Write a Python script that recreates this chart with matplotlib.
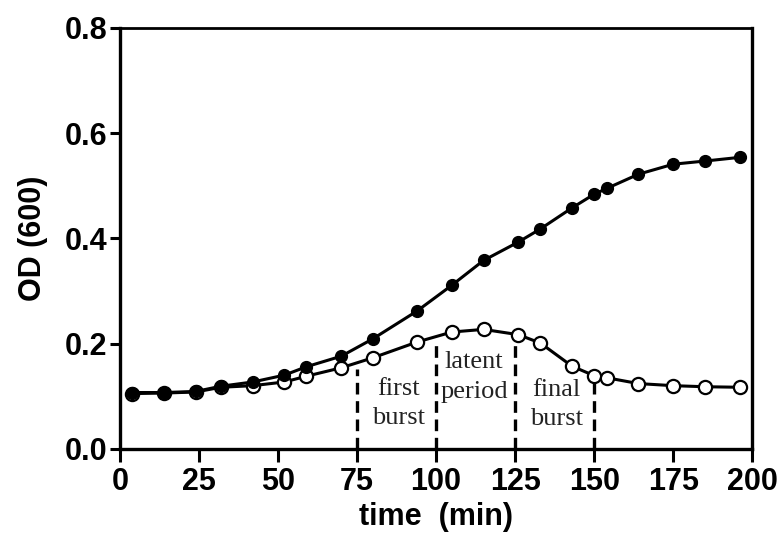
#! /usr/bin/env python3
#
#  OD(600) growth curves: uninfected (filled) vs infected (open), with burst phases.
#
import matplotlib
matplotlib.use('Agg')
import matplotlib.pyplot as plt
import numpy as np

time_min = [4, 14, 24, 32, 42, 52, 59, 70, 80, 94, 105, 115, 126, 133, 143,
            150, 154, 164, 175, 185, 196]
od_filled = [0.107, 0.107, 0.109, 0.119, 0.127, 0.140, 0.156, 0.176, 0.209,
             0.262, 0.311, 0.358, 0.393, 0.418, 0.458, 0.484, 0.495, 0.522,
             0.541, 0.547, 0.554]
od_open = [0.105, 0.106, 0.108, 0.117, 0.120, 0.127, 0.138, 0.154, 0.173,
           0.203, 0.222, 0.227, 0.217, 0.201, 0.157, 0.139, 0.135, 0.124,
           0.120, 0.118, 0.117]

phase_marks = [75, 100, 125, 150]
phase_labels = ['first\nburst', 'latent\nperiod', 'final\nburst']
label_x = [88, 112, 138]
label_y = [0.086, 0.136, 0.084]

xticks = [0, 25, 50, 75, 100, 125, 150, 175, 200]
yticks = [0.0, 0.2, 0.4, 0.6, 0.8]

plt.rcParams['font.family'] = ['Liberation Sans', 'DejaVu Sans']

fig = plt.figure(figsize=(7.78, 5.48), dpi=100)
ax = fig.add_axes([0.154, 0.181, 0.813, 0.768])

ax.plot(time_min, od_open, '-o', color='black', lw=2.2, ms=9.5,
        mfc='white', mec='black', mew=1.6, zorder=3)
ax.plot(time_min, od_filled, '-o', color='black', lw=2.2, ms=8.5,
        mfc='black', mec='black', zorder=4)

#  Dashed phase boundaries, from the axis up to the infected curve.
for xm in phase_marks:
    top = np.interp(xm, time_min, od_open) - 0.012
    ax.plot([xm, xm], [0, top], color='black', lw=2.4,
            linestyle=(0, (3.5, 2)), zorder=2)

for xl, yl, txt in zip(label_x, label_y, phase_labels):
    ax.text(xl, yl, txt, ha='center', va='center', fontsize=19,
            family=['Liberation Serif', 'DejaVu Serif'], color='#222222',
            linespacing=1.45)

ax.set_xlim(0, 200)
ax.set_ylim(0, 0.8)
ax.set_xticks(xticks)
ax.set_yticks(yticks)
ax.set_yticklabels(['%.1f' % v for v in yticks])

for side in ['left', 'bottom', 'right']:
    ax.spines[side].set_linewidth(2.4)
ax.spines['top'].set_linewidth(2.0)

ax.tick_params(axis='both', direction='out', width=2.2, labelsize=22)
ax.tick_params(axis='x', length=9, pad=4)
ax.tick_params(axis='y', length=7, pad=2)
for lab in ax.get_xticklabels() + ax.get_yticklabels():
    lab.set_fontweight('bold')

ax.set_xlabel('time  (min)', fontsize=22, fontweight='bold', labelpad=4)
ax.set_ylabel('OD (600)', fontsize=22, fontweight='bold', labelpad=12)

fig.savefig('out.png', dpi=100)
